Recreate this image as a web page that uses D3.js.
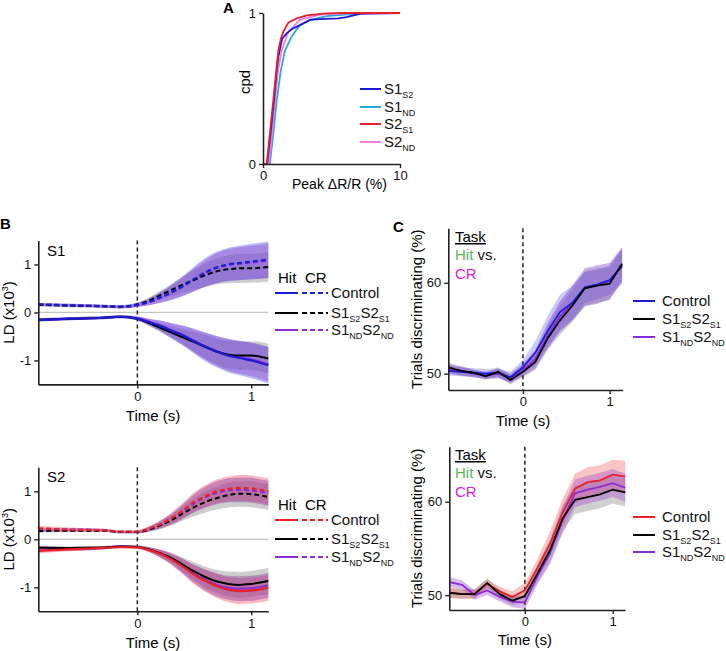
<!DOCTYPE html>
<html><head><meta charset="utf-8">
<script src="https://cdn.jsdelivr.net/npm/d3@7"></script>
<style>body{margin:0;background:#fff}svg{font-family:"Liberation Sans",Arial,sans-serif}</style>
</head><body><svg id="c" width="726" height="651"></svg>
<script>
// ---------- Panel A data (cumulative distributions) ----------
const cdfS1S2_x = [0,0.3,0.55,0.8,1.0,1.12,1.4,1.73,2.09,2.7,3.43,4.16,5.5,6.1,7.08,10];
const cdfS1S2_y = [0,0,0.2,0.42,0.62,0.71,0.83,0.865,0.892,0.92,0.954,0.96,0.965,0.973,0.995,1];
const cdfS1ND_x = [0,0.5,0.75,1.0,1.3,1.6,2.09,2.7,3.43,4.65,6,7.3,10];
const cdfS1ND_y = [0,0,0.2,0.42,0.62,0.75,0.845,0.92,0.954,0.98,0.99,1,1];
const cdfS2S1_x = [0,0.27,0.5,0.75,1.0,1.12,1.3,1.48,1.85,2.46,3.19,4.65,6,10];
const cdfS2S1_y = [0,0,0.2,0.42,0.65,0.75,0.83,0.876,0.936,0.965,0.985,0.998,1,1];
const cdfS2ND_x = [0,0.4,0.65,0.87,1.1,1.36,1.85,2.7,4.16,6,7.5,10];
const cdfS2ND_y = [0,0,0.2,0.42,0.62,0.75,0.876,0.955,0.99,0.997,1,1];
const aXTicks = [0,10], aYTicks = [0,1];

// ---------- Panel B data (LD, x10^3) ----------
const tB = [-0.87,-0.6,-0.3,-0.15,0,0.1,0.2,0.3,0.4,0.5,0.6,0.7,0.8,0.9,1.0,1.15];
const bS1_CR_ctrl = [0.17,0.15,0.13,0.12,0.16,0.22,0.31,0.42,0.55,0.70,0.84,0.94,1.00,1.03,1.06,1.10];
const bS1_CR_s2s1 = [0.16,0.14,0.13,0.12,0.17,0.25,0.36,0.47,0.58,0.68,0.78,0.86,0.90,0.92,0.92,0.95];
const bS1_CR_nd   = [0.16,0.15,0.13,0.11,0.15,0.21,0.30,0.41,0.54,0.68,0.82,0.93,0.99,1.02,1.04,1.08];
const bS1_Hit_ctrl = [-0.16,-0.13,-0.11,-0.09,-0.13,-0.20,-0.28,-0.38,-0.48,-0.60,-0.72,-0.82,-0.90,-0.95,-1.00,-1.10];
const bS1_Hit_s2s1 = [-0.15,-0.13,-0.11,-0.09,-0.13,-0.22,-0.32,-0.42,-0.52,-0.62,-0.72,-0.82,-0.88,-0.90,-0.90,-0.96];
const bS1_Hit_nd   = [-0.15,-0.13,-0.11,-0.09,-0.12,-0.19,-0.27,-0.37,-0.47,-0.59,-0.71,-0.81,-0.89,-0.94,-0.98,-1.08];
const bS1_sem_ctrl = [0.03,0.03,0.03,0.03,0.04,0.07,0.11,0.16,0.21,0.26,0.30,0.33,0.35,0.36,0.37,0.38];
const bS1_sem_nd   = [0.03,0.03,0.03,0.03,0.04,0.06,0.10,0.14,0.19,0.24,0.28,0.31,0.33,0.34,0.35,0.36];
const bS1_sem_s2s1 = [0.03,0.03,0.03,0.03,0.04,0.06,0.09,0.13,0.17,0.21,0.25,0.27,0.29,0.30,0.30,0.31];

const bS2_CR_ctrl = [0.23,0.20,0.19,0.16,0.16,0.22,0.31,0.44,0.60,0.78,0.90,1.00,1.05,1.07,1.06,1.00];
const bS2_CR_s2s1 = [0.17,0.18,0.18,0.15,0.15,0.20,0.29,0.40,0.54,0.67,0.78,0.86,0.92,0.95,0.94,0.88];
const bS2_CR_nd   = [0.19,0.20,0.19,0.15,0.15,0.21,0.30,0.42,0.58,0.75,0.88,0.97,1.02,1.03,1.02,0.96];
const bS2_Hit_ctrl = [-0.24,-0.21,-0.18,-0.16,-0.17,-0.22,-0.30,-0.42,-0.57,-0.74,-0.87,-0.98,-1.05,-1.08,-1.07,-1.01];
const bS2_Hit_s2s1 = [-0.17,-0.18,-0.17,-0.15,-0.16,-0.21,-0.29,-0.39,-0.53,-0.67,-0.79,-0.88,-0.93,-0.95,-0.93,-0.87];
const bS2_Hit_nd   = [-0.19,-0.20,-0.18,-0.15,-0.16,-0.21,-0.30,-0.41,-0.56,-0.72,-0.85,-0.95,-1.01,-1.03,-1.02,-0.96];
const bS2_sem_ctrl = [0.05,0.04,0.03,0.03,0.03,0.05,0.08,0.12,0.16,0.20,0.23,0.25,0.26,0.27,0.27,0.27];
const bS2_sem_nd   = [0.04,0.04,0.03,0.03,0.03,0.05,0.08,0.11,0.15,0.19,0.22,0.24,0.25,0.26,0.26,0.26];
const bS2_sem_s2s1 = [0.03,0.03,0.03,0.03,0.03,0.05,0.08,0.11,0.15,0.19,0.22,0.24,0.26,0.27,0.27,0.27];
const bXTicks = [0,1], bYTicks = [-1,0,1];

// ---------- Panel C data (% trials discriminating) ----------
const tC = [-0.857,-0.714,-0.571,-0.429,-0.286,-0.143,0,0.143,0.286,0.429,0.571,0.714,0.857,1.0,1.143];
const cS1_ctrl = [50.3,50.2,50.1,50.0,50.1,49.6,50.7,52.3,54.7,56.8,57.8,59.5,59.8,60.3,61.8];
const cS1_s2s1 = [50.7,50.3,50.1,49.7,50.2,49.3,50.2,51.3,53.9,55.9,57.5,59.4,59.7,59.9,62.1];
const cS1_nd   = [50.5,50.3,50.0,49.8,50.0,49.5,50.4,51.6,54.2,56.3,57.8,59.5,59.8,60.2,62.0];
const cS1_sem_ctrl = [0.5,0.5,0.5,0.5,0.5,0.6,0.8,1.3,1.7,1.9,1.9,1.7,1.6,1.6,1.9];
const cS1_sem_nd   = [0.5,0.5,0.4,0.4,0.5,0.5,0.7,1.0,1.4,1.7,1.9,2.1,2.1,2.0,1.9];
const cS1_sem_s2s1 = [0.5,0.5,0.4,0.4,0.5,0.5,0.6,0.9,1.3,1.6,1.8,1.9,1.9,1.8,1.8];

const cS2_ctrl = [50.25,50.1,50.15,51.2,50.4,49.8,50.5,52.9,55.5,58.8,61.4,62.1,62.3,62.9,62.7];
const cS2_s2s1 = [50.25,50.1,50.1,51.3,50.1,49.4,49.9,52.3,54.8,58.2,60.2,60.5,60.8,61.3,61.0];
const cS2_nd   = [51.4,51.1,50.0,50.5,49.8,49.3,49.2,52.0,54.5,58.0,60.9,61.3,61.6,62.0,61.5];
const cS2_sem_ctrl = [0.6,0.5,0.5,0.5,0.5,0.6,0.8,1.0,1.3,1.5,1.6,1.6,1.6,1.6,1.7];
const cS2_sem_nd   = [0.5,0.5,0.5,0.5,0.5,0.6,0.7,0.9,1.2,1.4,1.5,1.5,1.5,1.5,1.5];
const cS2_sem_s2s1 = [0.5,0.5,0.5,0.5,0.5,0.5,0.7,0.9,1.2,1.4,1.5,1.5,1.5,1.5,1.5];
const cXTicks = [0,1], cYTicks = [50,60];

// ---------- colors ----------
const BLUE = "#1c1cd6", CYAN = "#2aa8e0", RED = "#e8202a", PINK = "#f27de8",
      PURPLE = "#8c2bd6", BLACK = "#000", GREEN = "#5cb85c", MAGENTA = "#e020e0";

const svg = d3.select("#c");
const FONT = "Liberation Sans, Arial, sans-serif";

function axes(g, x, y, xt, yt) {
  const ax = g.append("g").attr("transform", `translate(0,${y.range()[0]})`)
    .call(d3.axisBottom(x).tickValues(xt).tickSize(4).tickPadding(3).tickSizeOuter(0).tickFormat(d => String(d)));
  const ay = g.append("g").attr("transform", `translate(${x.range()[0]},0)`)
    .call(d3.axisLeft(y).tickValues(yt).tickSize(4).tickPadding(3).tickSizeOuter(0).tickFormat(d => String(d)));
  [ax, ay].forEach(a => {
    a.select(".domain").attr("stroke", "#222").attr("stroke-width", 1.6);
    a.selectAll(".tick line").attr("stroke", "#222").attr("stroke-width", 1.4);
    a.selectAll(".tick text").attr("font-size", 13).attr("fill", "#111").attr("font-family", FONT);
  });
}
function subText(g, x, y, parts, size, anchor) {
  const t = g.append("text").attr("x", x).attr("y", y).attr("font-size", size).attr("fill", "#111")
    .attr("text-anchor", anchor || "start");
  let shifted = false;
  parts.forEach(([s, sub]) => {
    const ts = t.append("tspan").text(s);
    if (sub && !shifted) { ts.attr("font-size", size * 0.6).attr("dy", 4); shifted = true; }
    else if (!sub && shifted) { ts.attr("dy", -4).attr("font-size", size); shifted = false; }
    else if (sub) ts.attr("font-size", size * 0.6);
  });
  return t;
}
function line(x, y, curve) {
  return d3.line().x(d => x(d[0])).y(d => y(d[1])).curve(curve || d3.curveLinear);
}
function band(g, x, y, t, m, s, fill, op, curve) {
  const d = t.map((tt, i) => [tt, m[i] - s[i], m[i] + s[i]]);
  g.append("path").attr("d", d3.area().x(p => x(p[0])).y0(p => y(p[1])).y1(p => y(p[2])).curve(curve || d3.curveLinear)(d))
    .attr("fill", fill).attr("fill-opacity", op).attr("stroke", "none");
}
function trace(g, x, y, t, m, color, dash, w, curve) {
  g.append("path").attr("d", line(x, y, curve)(t.map((tt, i) => [tt, m[i]])))
    .attr("fill", "none").attr("stroke", color).attr("stroke-width", w || 2)
    .attr("stroke-dasharray", dash || null);
}
function panelLabel(txt, x, y) {
  svg.append("text").attr("x", x).attr("y", y).attr("font-size", 15).attr("font-weight", "bold").text(txt);
}

// ================= Panel A =================
{
  const g = svg.append("g");
  const x = d3.scaleLinear().domain([0, 10]).range([263, 400]);
  const y = d3.scaleLinear().domain([0, 1]).range([164, 13]);
  const series = [
    [cdfS1ND_x, cdfS1ND_y, CYAN], [cdfS2ND_x, cdfS2ND_y, PINK],
    [cdfS1S2_x, cdfS1S2_y, BLUE], [cdfS2S1_x, cdfS2S1_y, RED]];
  series.forEach(([xs, ys, c]) => trace(g, x, y, xs, ys, c, null, 1.8));
  axes(g, x, y, aXTicks, aYTicks);
  g.append("text").attr("transform", "translate(250,82) rotate(-90)").attr("text-anchor", "middle")
    .attr("font-size", 15).text("cpd");
  g.append("text").attr("x", 292).attr("y", 189).attr("font-size", 14).text("Peak ΔR/R (%)");
  const lg = [
    [[["S1",0],["S2",1]], BLUE, 89], [[["S1",0],["ND",1]], CYAN, 107],
    [[["S2",0],["S1",1]], RED, 124], [[["S2",0],["ND",1]], PINK, 142]];
  lg.forEach(([p, c, yy]) => {
    g.append("line").attr("x1", 360).attr("x2", 381).attr("y1", yy).attr("y2", yy).attr("stroke", c).attr("stroke-width", 2);
    subText(g, 384, yy + 5, p, 15);
  });
  panelLabel("A", 223, 13);
}

// ================= Panel B =================
function panelB(yr, label, crs, hits, sems, ctrlColor, ctrlBand, purpleBand, legY) {
  const g = svg.append("g");
  const x = d3.scaleLinear().domain([-0.87, 1.15]).range([38.3, 268.3]);
  const y = d3.scaleLinear().domain([-1.5, 1.5]).range(yr);
  const C = d3.curveMonotoneX;
  g.append("line").attr("x1", x(-0.87)).attr("x2", x(1.15)).attr("y1", y(0)).attr("y2", y(0))
    .attr("stroke", "#c4c4c4").attr("stroke-width", 1.2);
  [crs, hits].forEach(set => {
    band(g, x, y, tB, set[1], sems[1], "#8a8a8a", 0.42, C);
    band(g, x, y, tB, set[0], sems[0], ctrlBand, 0.36, C);
    band(g, x, y, tB, set[2], sems[2], purpleBand, 0.42, C);
  });
  g.append("line").attr("x1", x(0)).attr("x2", x(0)).attr("y1", y(1.5)).attr("y2", y(-1.5))
    .attr("stroke", "#222").attr("stroke-width", 1.5).attr("stroke-dasharray", "4,3");
  trace(g, x, y, tB, crs[2], PURPLE, "5,3", 2, C);
  trace(g, x, y, tB, crs[1], BLACK, "5,3", 2, C);
  trace(g, x, y, tB, crs[0], ctrlColor, "5,3", 2.2, C);
  trace(g, x, y, tB, hits[2], PURPLE, null, 2, C);
  trace(g, x, y, tB, hits[1], BLACK, null, 2, C);
  trace(g, x, y, tB, hits[0], ctrlColor, null, 2.2, C);
  axes(g, x, y, bXTicks, bYTicks);
  g.append("text").attr("x", 47).attr("y", yr[1] + 15).attr("font-size", 15).text(label);
  g.append("text").attr("x", 153).attr("y", yr[0] + 37).attr("text-anchor", "middle").attr("font-size", 15).text("Time (s)");
  const yl = g.append("text").attr("transform", `translate(14,${y(0)}) rotate(-90)`).attr("text-anchor", "middle").attr("font-size", 15);
  yl.append("tspan").text("LD (x10");
  yl.append("tspan").text("3").attr("font-size", 9).attr("dy", -6);
  yl.append("tspan").text(")").attr("dy", 6);
  // legend
  g.append("text").attr("x", 278).attr("y", legY[0]).attr("font-size", 15).text("Hit");
  g.append("text").attr("x", 305).attr("y", legY[0]).attr("font-size", 15).text("CR");
  const names = [[["Control",0]], [["S1",0],["S2",1],["S2",0],["S1",1]], [["S1",0],["ND",1],["S2",0],["ND",1]]];
  const cols = [ctrlColor, BLACK, PURPLE];
  names.forEach((p, i) => {
    const yy = legY[i + 1];
    g.append("line").attr("x1", 275).attr("x2", 298).attr("y1", yy).attr("y2", yy).attr("stroke", cols[i]).attr("stroke-width", 2);
    g.append("line").attr("x1", 302).attr("x2", 328).attr("y1", yy).attr("y2", yy).attr("stroke", cols[i]).attr("stroke-width", 2).attr("stroke-dasharray", "5,3");
    subText(g, 331, yy + 5, p, 15);
  });
}
panelB([384.4, 240.5], "S1",
  [bS1_CR_ctrl, bS1_CR_s2s1, bS1_CR_nd], [bS1_Hit_ctrl, bS1_Hit_s2s1, bS1_Hit_nd],
  [bS1_sem_ctrl, bS1_sem_s2s1, bS1_sem_nd], BLUE, "#4040e8", "#9048d0", [283, 293, 313, 330]);
panelB([611.3, 467.3], "S2",
  [bS2_CR_ctrl, bS2_CR_s2s1, bS2_CR_nd], [bS2_Hit_ctrl, bS2_Hit_s2s1, bS2_Hit_nd],
  [bS2_sem_ctrl, bS2_sem_s2s1, bS2_sem_nd], RED, "#f03c55", "#8a3aa8", [510, 520, 539, 557]);
panelLabel("B", 0, 229);

// ================= Panel C =================
function panelC(xr, yd, yr, ms, sems, ctrlColor, ctrlBand, purpleBand, taskY, legY, timeY) {
  const g = svg.append("g");
  const x = d3.scaleLinear().domain([-0.86, xr[2]]).range([xr[0], xr[1]]);
  const y = d3.scaleLinear().domain(yd).range(yr);
  band(g, x, y, tC, ms[1], sems[1], "#8a8a8a", 0.4);
  band(g, x, y, tC, ms[0], sems[0], ctrlBand, 0.35);
  band(g, x, y, tC, ms[2], sems[2], purpleBand, 0.4);
  g.append("line").attr("x1", x(0)).attr("x2", x(0)).attr("y1", yr[1]).attr("y2", yr[0])
    .attr("stroke", "#222").attr("stroke-width", 1.5).attr("stroke-dasharray", "4,3");
  trace(g, x, y, tC, ms[2], PURPLE, null, 1.8);
  trace(g, x, y, tC, ms[0], ctrlColor, null, 1.8);
  trace(g, x, y, tC, ms[1], BLACK, null, 1.8);
  axes(g, x, y, cXTicks, cYTicks);
  g.append("text").attr("x", x(0)).attr("y", timeY).attr("text-anchor", "middle").attr("font-size", 15).text("Time (s)");
  g.append("text").attr("transform", `translate(422,${(yr[0] + yr[1]) / 2}) rotate(-90)`).attr("text-anchor", "middle")
    .attr("font-size", 15).text("Trials discriminating (%)");
  g.append("text").attr("x", 455).attr("y", taskY).attr("font-size", 15).attr("text-decoration", "underline").text("Task");
  const hv = g.append("text").attr("x", 455).attr("y", taskY + 18).attr("font-size", 15);
  hv.append("tspan").text("Hit").attr("fill", GREEN);
  hv.append("tspan").text(" vs.").attr("fill", "#111");
  g.append("text").attr("x", 455).attr("y", taskY + 37).attr("font-size", 15).attr("fill", MAGENTA).text("CR");
  const names = [[["Control",0]], [["S1",0],["S2",1],["S2",0],["S1",1]], [["S1",0],["ND",1],["S2",0],["ND",1]]];
  const cols = [ctrlColor, BLACK, PURPLE];
  names.forEach((p, i) => {
    const yy = legY[i];
    g.append("line").attr("x1", 633).attr("x2", 655).attr("y1", yy).attr("y2", yy).attr("stroke", cols[i]).attr("stroke-width", 2);
    subText(g, 662, yy + 5, p, 15);
  });
}
panelC([448.3, 622.7, 1.15], [48.2, 66], [390, 228.3],
  [cS1_ctrl, cS1_s2s1, cS1_nd], [cS1_sem_ctrl, cS1_sem_s2s1, cS1_sem_nd],
  BLUE, "#6a6af0", "#7a3ac8", 242, [301, 319, 337], 426);
panelC([449.3, 625, 1.14], [48.4, 65.9], [610, 446.7],
  [cS2_ctrl, cS2_s2s1, cS2_nd], [cS2_sem_ctrl, cS2_sem_s2s1, cS2_sem_nd],
  RED, "#f05a5a", "#a050d0", 460, [517, 535, 552], 645);
panelLabel("C", 393, 232);
</script></body></html>
